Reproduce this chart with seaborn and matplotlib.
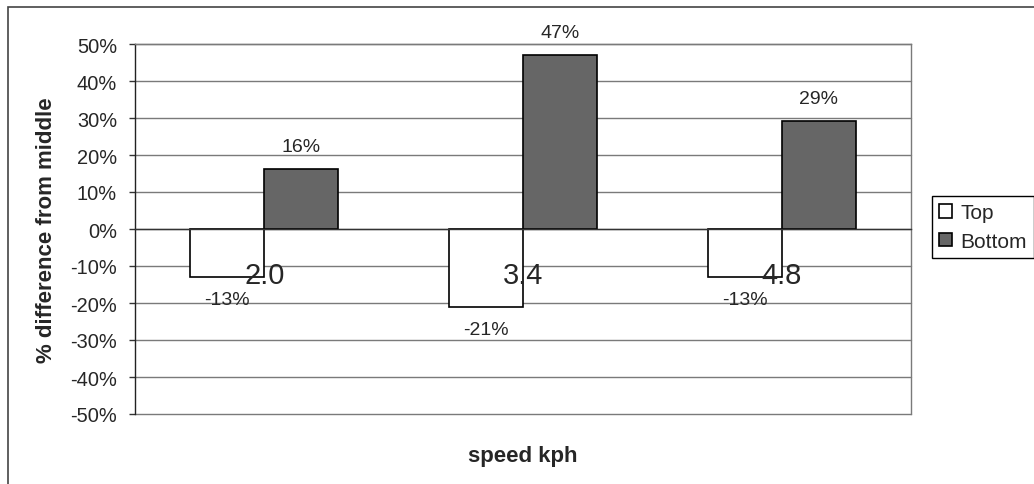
import matplotlib
matplotlib.use("Agg")
import matplotlib.pyplot as plt
import seaborn as sns
import pandas as pd
from matplotlib.patches import Rectangle

# ---- data ----
speeds = ["2.0", "3.4", "4.8"]
series = ["Top", "Bottom"]
top_vals = [-0.13, -0.21, -0.13]
bottom_vals = [0.163, 0.47, 0.293]
ytick_vals = [-0.5, -0.4, -0.3, -0.2, -0.1, 0.0, 0.1, 0.2, 0.3, 0.4, 0.5]
ytick_labels = ["-50%", "-40%", "-30%", "-20%", "-10%", "0%", "10%", "20%", "30%", "40%", "50%"]
y_title = "% difference from middle"
x_title = "speed kph"

df = pd.DataFrame({
    "speed": speeds * 2,
    "position": ["Top"] * 3 + ["Bottom"] * 3,
    "value": top_vals + bottom_vals,
})

sns.set_style("white")
plt.rcParams["font.family"] = ["Liberation Sans", "DejaVu Sans"]
plt.rcParams["axes.unicode_minus"] = False

W, H = 1034, 485
fig = plt.figure(figsize=(W / 100, H / 100), dpi=100)
ax = fig.add_axes([135 / W, (H - 415) / H, (911 - 135) / W, (415 - 45) / H])

sns.barplot(data=df, x="speed", y="value", hue="position", order=speeds,
            hue_order=series, palette={"Top": "white", "Bottom": "#666666"},
            edgecolor="black", linewidth=1.2, width=0.572, gap=0, ax=ax,
            legend=True, errorbar=None)

ax.set_ylim(-0.5, 0.5)
ax.set_yticks(ytick_vals)
ax.set_yticklabels(ytick_labels, fontsize=14.4)
ax.grid(axis="y", color="#7a7a7a", linewidth=1.0)
ax.set_axisbelow(True)
ax.xaxis.set_zorder(4)
for gl in ax.get_ygridlines():
    gl.set_clip_on(False)

# category axis crosses at zero
ax.spines["bottom"].set_position(("data", 0))
ax.spines["bottom"].set_color("#333333")
ax.spines["left"].set_color("#222222")
ax.spines["top"].set_color("#7a7a7a")
ax.spines["right"].set_color("#7a7a7a")
for s in ax.spines.values():
    s.set_linewidth(1.0)

ax.set_xticks([0, 1, 2])
ax.set_xticklabels(speeds, fontsize=21)
ax.set_xticks([0.5, 1.5], minor=True)
ax.tick_params(axis="x", which="major", length=0, pad=23)
ax.tick_params(axis="x", which="minor", length=7, width=1, color="#555555", direction="out")
ax.tick_params(axis="y", which="major", length=4, width=1, color="#333333", direction="out", left=True, pad=9)

ax.set_xlabel(x_title, fontsize=16, fontweight="bold")
ax.set_ylabel(y_title, fontsize=16, fontweight="bold")
ax.xaxis.set_label_coords(0.5, -0.085)
ax.yaxis.set_label_coords(-0.10, 0.5)

# value labels
pads = {"Top": 10, "Bottom": 10}
for cont, name in zip(ax.containers, series):
    vals = [b.get_height() for b in cont]
    ax.bar_label(cont, labels=[f"{v:.0%}" for v in vals], fontsize=14, padding=pads[name])

# legend
handles, labels = ax.get_legend_handles_labels()
ax.legend(handles, labels, loc="upper left", bbox_to_anchor=(932 / W, 1 - 197 / H),
          bbox_transform=fig.transFigure, fontsize=15, frameon=True, fancybox=False,
          edgecolor="black", framealpha=1, handlelength=0.6, handleheight=0.6,
          handletextpad=0.4, labelspacing=0.45, borderpad=0.35, borderaxespad=0)
ax.get_legend().get_frame().set_linewidth(1.0)

# outer chart frame
fig.patches.append(Rectangle((8 / W, -0.02), 1.0, 1 - 8 / H + 0.02, transform=fig.transFigure,
                             fill=False, edgecolor="#444444", linewidth=1.2))

fig.savefig("out.png", dpi=100)
